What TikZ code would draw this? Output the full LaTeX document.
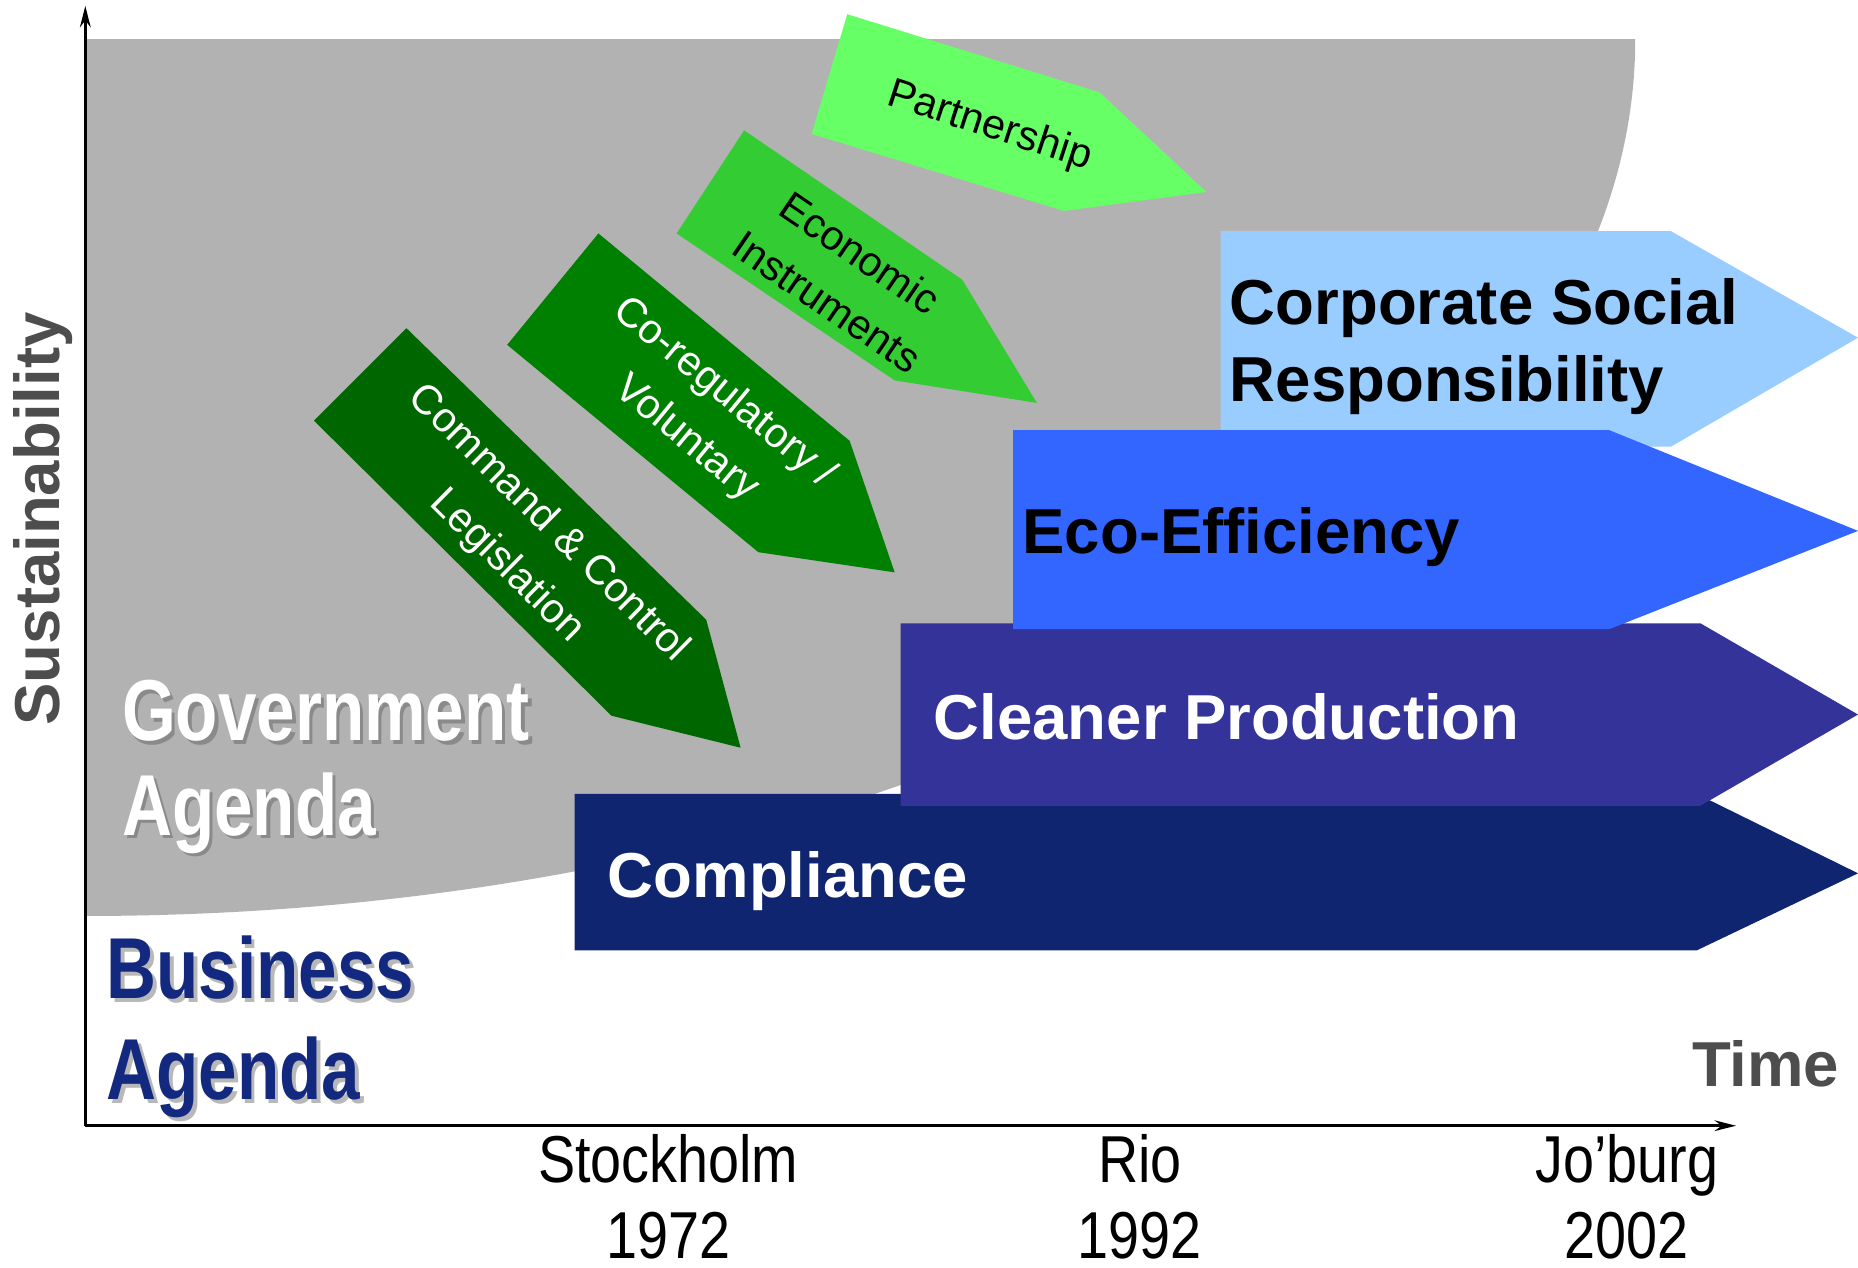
\documentclass[tikz,border=0pt]{standalone}
\usepackage{fontspec}
\setmainfont{Liberation Sans}
\newfontfamily\narrowbold[FakeStretch=0.8]{Liberation Sans}
\newfontfamily\narrowreg[FakeStretch=0.84]{Liberation Sans}
\usetikzlibrary{arrows.meta}
\newcommand\myfs[2]{\fontsize{#1}{#2}\selectfont}
\definecolor{govgray}{HTML}{B2B2B2}
\definecolor{partgreen}{HTML}{66FF66}
\definecolor{econgreen}{HTML}{33CC33}
\definecolor{cogreen}{HTML}{008000}
\definecolor{cmdgreen}{HTML}{006600}
\definecolor{csrblue}{HTML}{99CCFF}
\definecolor{ecoblue}{HTML}{3366FF}
\definecolor{cpblue}{HTML}{333399}
\definecolor{compblue}{HTML}{0F2570}
\definecolor{busblue}{HTML}{13287F}
\definecolor{axisgray}{HTML}{4D4D4D}
\definecolor{govshadow}{HTML}{8A8A8A}
\definecolor{busshadow}{HTML}{B8B8B8}
\tikzset{
  boxlabel/.style={anchor=base west, font=\bfseries\myfs{53.6}{64}},
  greenlabel/.style={align=center, font=\myfs{35}{50}},
  agenda/.style={anchor=base west, font=\narrowbold\bfseries\myfs{73}{80}},
  yearlabel/.style={anchor=base, font=\narrowreg\myfs{56}{64}},
  axisline/.style={line width=2.5pt, -{Stealth[length=18pt,width=9pt]}}
}
\begin{document}
\begin{tikzpicture}[x=1pt,y=-1pt, every node/.style={inner sep=0pt, outer sep=0pt}]
\useasboundingbox (0,0) rectangle (1568,1070);
% government agenda region (quarter ellipse)
\fill[govgray] (72,33) -- (1380,33) .. controls (1380,441.7) and (794.4,773) .. (72,773) -- cycle;
% green arrows
\fill[cmdgreen] (343,277) -- (596,523) -- (625,631) -- (516,604) -- (265,355) -- cycle;
\fill[cogreen] (505,197) -- (717,372) -- (755,483) -- (640,466) -- (428,291) -- cycle;
\fill[econgreen] (628,110) -- (812,236) -- (875,340) -- (755,321) -- (571,197) -- cycle;
\fill[partgreen] (715,12) -- (928,78) -- (1018,162) -- (898,178) -- (685,113) -- cycle;
% blue arrows
\fill[csrblue] (1030,195) -- (1410,195) -- (1568,285) -- (1410,377) -- (1030,377) -- cycle;
\fill[compblue] (485,670) -- (1432,670) -- (1568,737) -- (1432,802) -- (485,802) -- cycle;
\fill[cpblue] (760,526) -- (1435,526) -- (1568,603) -- (1435,680) -- (760,680) -- cycle;
\fill[ecoblue] (855,363) -- (1358,363) -- (1568,448) -- (1358,531) -- (855,531) -- cycle;
% green labels
\node[greenlabel, text=white, rotate=-44.6] (cmd) at (445,460) {Command \& Control\\Legislation};
\node[greenlabel, text=white, rotate=-39.5] (coreg) at (595,351) {Co-regulatory /\\Voluntary};
\node[greenlabel, text=black, rotate=-34.3] (econ) at (712,234) {Economic\\Instruments};
\node[greenlabel, text=black, rotate=-18] (part) at (835,107) {Partnership};
% blue labels
\node[boxlabel, text=black] (csr1) at (1038,274) {Corporate Social};
\node[boxlabel, text=black] (csr2) at (1038,339) {Responsibility};
\node[boxlabel, text=black] (eco) at (863,467) {Eco-Efficiency};
\node[boxlabel, text=white] (cp) at (788,624) {Cleaner Production};
\node[boxlabel, text=white] (comp) at (513,757) {Compliance};
% agendas with shadow
\node[agenda, text=govshadow] (gov1s) at (106,628) {Government};
\node[agenda, text=govshadow] (gov2s) at (106,708) {Agenda};
\node[agenda, text=white] (gov1) at (103,625) {Government};
\node[agenda, text=white] (gov2) at (103,705) {Agenda};
\node[agenda, text=busshadow] (bus1s) at (93,846) {Business};
\node[agenda, text=busshadow] (bus2s) at (93,931) {Agenda};
\node[agenda, text=busblue] (bus1) at (90,843) {Business};
\node[agenda, text=busblue] (bus2) at (90,928) {Agenda};
% axes
\coordinate (O) at (72,950);
\coordinate (ytip) at (72,5);
\coordinate (xtip) at (1465,950);
\draw[axisline] (O) -- (ytip);
\draw[axisline] (O) -- (xtip);
\node[anchor=base, rotate=90, text=axisgray, font=\bfseries\myfs{53.6}{64}] (sust) at (50,438) {Sustainability};
\node[anchor=base west, text=axisgray, font=\bfseries\myfs{53.6}{64}] (time) at (1428,917) {Time};
% years
\node[yearlabel] (stk) at (564,998) {Stockholm};
\node[yearlabel] (y72) at (564,1062) {1972};
\node[yearlabel] (rio) at (962,998) {Rio};
\node[yearlabel] (y92) at (962,1062) {1992};
\node[yearlabel] (job) at (1373,998) {Jo’burg};
\node[yearlabel] (y02) at (1373,1062) {2002};
\end{tikzpicture}
\end{document}
